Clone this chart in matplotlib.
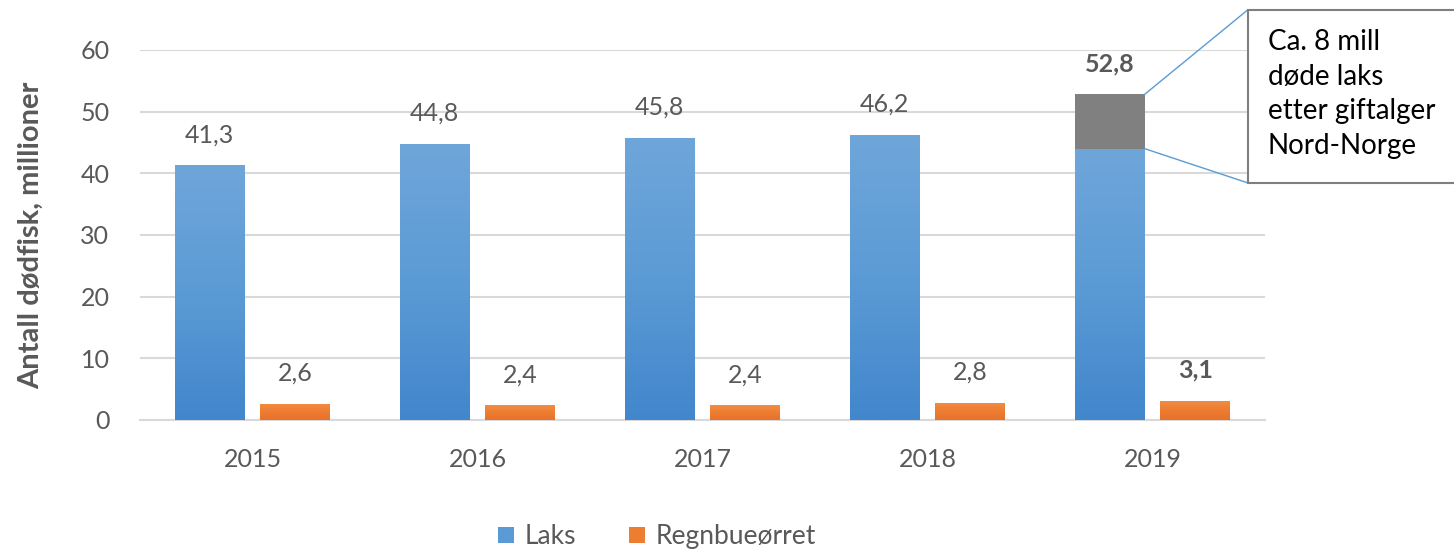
import numpy as np
import matplotlib
matplotlib.use("Agg")
import matplotlib.pyplot as plt
from matplotlib.colors import LinearSegmentedColormap
from matplotlib.patches import Rectangle

plt.rcParams['font.family'] = ['Lato', 'DejaVu Sans']

# data
years = ['2015', '2016', '2017', '2018', '2019']
laks = [41.3, 44.8, 45.8, 46.2, 52.8]
regnbue = [2.6, 2.4, 2.4, 2.8, 3.1]
algae_2019 = 8.8   # grey part of the 2019 laks bar (toxic algae)
bold_labels = [False, False, False, False, True]
note = 'Ca. 8 mill\ndøde laks\netter giftalger\nNord-Norge'

grey_txt = '#595959'
blue_cm = LinearSegmentedColormap.from_list('b', ['#4286CC', '#5B9BD5', '#6FA6DA'])
orng_cm = LinearSegmentedColormap.from_list('o', ['#E8712A', '#ED7D31', '#F48C45'])

fig = plt.figure(figsize=(14.54, 5.59), dpi=100)
ax = fig.add_axes([0.0963, 0.2487, 0.7737, 0.6619])

x = np.arange(len(years))
w = 0.31
off = 0.19

laks_base = [v - algae_2019 if i == 4 else v for i, v in enumerate(laks)]
b1 = ax.bar(x - off, laks_base, w, color='#5B9BD5', zorder=3, label='Laks')
b2 = ax.bar(x + off, regnbue, w, color='#ED7D31', zorder=3, label='Regnbueørret')
ax.bar(x[4] - off, algae_2019, w, bottom=laks_base[4], color='#808080', zorder=3)

# vertical gradients on bars
grad = np.linspace(0, 1, 256).reshape(-1, 1)
for bars, cm in [(b1, blue_cm), (b2, orng_cm)]:
    for p in bars:
        x0, y0 = p.get_x(), p.get_y()
        im = ax.imshow(grad, cmap=cm, origin='lower', aspect='auto', zorder=3.5,
                       extent=[x0, x0 + p.get_width(), y0, y0 + p.get_height()])
        im.set_clip_path(p)

ax.set_xlim(-0.5, 4.5)
ax.set_ylim(0, 60)
ax.set_yticks(range(0, 61, 10))
ax.set_xticks(x)
ax.set_xticklabels(years)
ax.grid(axis='y', color='#D9D9D9', linewidth=1.5, zorder=0)
ax.set_axisbelow(True)
for s in ['top', 'right', 'left']:
    ax.spines[s].set_visible(False)
ax.spines['bottom'].set_color('#D9D9D9')
ax.spines['bottom'].set_linewidth(1.5)
ax.tick_params(length=0, labelsize=18, colors=grey_txt)
ax.tick_params(axis='x', pad=20)
ax.tick_params(axis='y', pad=22)

ax.set_ylabel('Antall dødfisk, millioner', fontsize=21, fontweight='bold',
              color=grey_txt)
ax.yaxis.set_label_coords(-0.085, 0.5)

# value labels
for i in range(len(years)):
    fw = 'bold' if bold_labels[i] else 'normal'
    ax.annotate(f'{laks[i]:.1f}'.replace('.', ','), (x[i] - off, laks[i]),
                xytext=(0, 22), textcoords='offset points', ha='center', va='center',
                fontsize=18, color=grey_txt, fontweight=fw)
    ax.annotate(f'{regnbue[i]:.1f}'.replace('.', ','), (x[i] + off, regnbue[i]),
                xytext=(0, 22), textcoords='offset points', ha='center', va='center',
                fontsize=18, color=grey_txt, fontweight=fw)

# callout box
bx0, by0, by1 = 0.858, 0.673, 0.982
fig.patches.append(Rectangle((bx0, by0), 0.2, by1 - by0, transform=fig.transFigure,
                             facecolor='white', edgecolor='#7F7F7F', linewidth=1.5))
fig.text(0.872, 0.832, note, ha='left', va='center', fontsize=20,
         color='black', linespacing=1.4)
xr = x[4] - off + w / 2
for yv, fy in [(laks[4], by1), (laks_base[4], by0)]:
    ax.annotate('', xy=(xr, yv), xycoords='data', xytext=(bx0, fy),
                textcoords='figure fraction',
                arrowprops=dict(arrowstyle='-', color='#5B9BD5', lw=1,
                                shrinkA=0, shrinkB=0), annotation_clip=False)

leg = fig.legend(handles=[b1, b2], loc='lower center', bbox_to_anchor=(0.452, -0.025),
                 ncol=2, frameon=False, fontsize=19, handlelength=0.6,
                 handleheight=0.6, columnspacing=2.0, handletextpad=0.4)
for t in leg.get_texts():
    t.set_color(grey_txt)

fig.savefig('out.png', dpi=100)
